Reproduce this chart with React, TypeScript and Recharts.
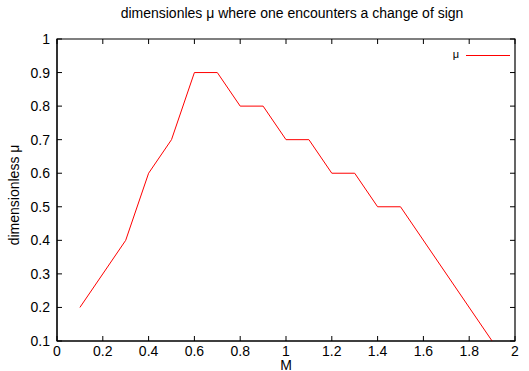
import React from "react";
import { LineChart, Line, XAxis, YAxis, ReferenceArea } from "recharts";

const mValues = [0.1, 0.3, 0.4, 0.5, 0.6, 0.7, 0.8, 0.9, 1.0, 1.1, 1.2, 1.3, 1.4, 1.5, 1.9];
const muValues = [0.2, 0.4, 0.6, 0.7, 0.9, 0.9, 0.8, 0.8, 0.7, 0.7, 0.6, 0.6, 0.5, 0.5, 0.1];
const xTicks = [0, 0.2, 0.4, 0.6, 0.8, 1, 1.2, 1.4, 1.6, 1.8, 2];
const yTicks = [0.1, 0.2, 0.3, 0.4, 0.5, 0.6, 0.7, 0.8, 0.9, 1];

const data = mValues.map((m, i) => ({ m, mu: muValues[i] }));

const FONT = '"Liberation Sans", Arial, sans-serif';
const CHART_W = 529;
const CHART_H = 371;
const M_TOP = 39;
const M_RIGHT = 14;
const TL = 5;
const PLOT_TOP = M_TOP;
const PLOT_RIGHT = CHART_W - M_RIGHT;
const fmt = (v: number) => String(Math.round(v * 10) / 10);

const BottomTick = (props: any) => {
  const { x, y, payload } = props;
  return (
    <g>
      <line x1={x} x2={x} y1={y} y2={y - TL} stroke="#000" strokeWidth={1} />
      <line x1={x} x2={x} y1={PLOT_TOP} y2={PLOT_TOP + TL} stroke="#000" strokeWidth={1} />
      <text x={x} y={y + 14.5} textAnchor="middle" fontSize={14} fontFamily={FONT} fill="#000">
        {fmt(payload.value)}
      </text>
    </g>
  );
};

const LeftTick = (props: any) => {
  const { x, y, payload } = props;
  return (
    <g>
      <line x1={x} x2={x + TL} y1={y} y2={y} stroke="#000" strokeWidth={1} />
      <line x1={PLOT_RIGHT} x2={PLOT_RIGHT - TL} y1={y} y2={y} stroke="#000" strokeWidth={1} />
      <text x={x - 7} y={y + 5} textAnchor="end" fontSize={14} fontFamily={FONT} fill="#000">
        {fmt(payload.value)}
      </text>
    </g>
  );
};

export default function App() {
  return (
    <div style={{ position: "absolute", left: 0, top: 0, width: CHART_W, height: CHART_H, overflow: "hidden", background: "#fff", fontFamily: FONT }}>
      <LineChart width={CHART_W} height={CHART_H} data={data} margin={{ top: M_TOP, right: M_RIGHT, left: 0, bottom: 0 }}>
        <XAxis
          xAxisId="bottom"
          dataKey="m"
          type="number"
          domain={[0, 2]}
          ticks={xTicks}
          height={30}
          tickSize={0}
          tickMargin={0}
          tickLine={false}
          axisLine={{ stroke: "#000", strokeWidth: 1 }}
          tick={<BottomTick />}
          interval={0}
        />
        <YAxis
          yAxisId="left"
          type="number"
          domain={[0.1, 1]}
          ticks={yTicks}
          width={57}
          tickSize={0}
          tickMargin={0}
          tickLine={false}
          axisLine={{ stroke: "#000", strokeWidth: 1 }}
          tick={<LeftTick />}
          interval={0}
        />
        <ReferenceArea
          xAxisId="bottom"
          yAxisId="left"
          x1={0}
          x2={2}
          y1={0.1}
          y2={1}
          fill="#ffffff"
          fillOpacity={0}
          stroke="#000000"
          strokeWidth={1.2}
          ifOverflow="visible"
        />
        <Line
          xAxisId="bottom"
          yAxisId="left"
          name="μ"
          type="linear"
          dataKey="mu"
          stroke="#ff0000"
          strokeWidth={1}
          dot={false}
          isAnimationActive={false}
        />
      </LineChart>
      <svg style={{ position: "absolute", left: 0, top: 0 }} width={CHART_W} height={CHART_H} pointerEvents="none">
        <text x={292} y={18} textAnchor="middle" fontSize={14} fontFamily={FONT} fill="#000">
          dimensionles μ where one encounters a change of sign
        </text>
        <text x={286} y={370} textAnchor="middle" fontSize={14} fontFamily={FONT} fill="#000">
          M
        </text>
        <text transform="translate(18.5,195) rotate(-90)" textAnchor="middle" fontSize={14} fontFamily={FONT} fill="#000">
          dimensionless μ
        </text>
        <text x={459} y={58} textAnchor="end" fontSize={11} fontFamily={FONT} fill="#000">
          μ
        </text>
        <line x1={466} x2={510} y1={55.5} y2={55.5} stroke="#ff0000" strokeWidth={1} />
      </svg>
    </div>
  );
}
